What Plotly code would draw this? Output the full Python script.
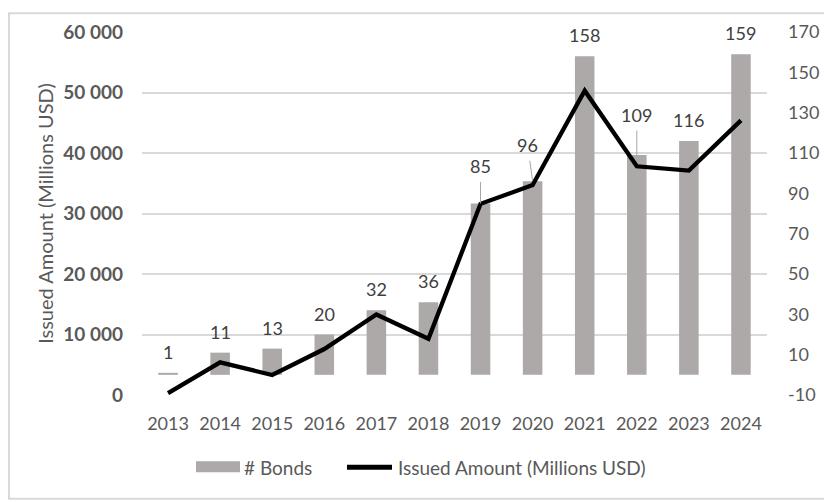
import plotly.graph_objects as go

years = ["2013", "2014", "2015", "2016", "2017", "2018", "2019", "2020", "2021", "2022", "2023", "2024"]
bonds = [1, 11, 13, 20, 32, 36, 85, 96, 158, 109, 116, 159]
issued = [300, 5400, 3300, 7600, 13300, 9300, 31600, 34700, 50300, 37800, 37100, 45400]
right_ticks = [-10, 10, 30, 50, 70, 90, 110, 130, 150, 170]

FONT = "Lato"
GREY_TXT = "#595959"
BAR_COL = "#ADA9A8"

# page has an 8px body margin; figure is placed at (8, 8)
OFF = 8
W, H = 832 - OFF, 503 - OFF
L, T = 142 - OFF, 28 - OFF
pw, ph = 625, 367
R, B = W - L - pw, H - T - ph


def px(x):
    # page pixel -> paper x
    return (x - OFF - L) / pw


def py(y):
    # page pixel -> paper y
    return (T + ph - (y - OFF)) / ph


fig = go.Figure()
fig.add_trace(go.Bar(x=years, y=bonds, name="# Bonds", marker=dict(color=BAR_COL, line=dict(width=0)),
                     width=0.375, yaxis="y", showlegend=False))
fig.add_trace(go.Scatter(x=years, y=issued, name="Issued Amount (Millions USD)", mode="lines",
                         line=dict(color="black", width=4.3), yaxis="y2", showlegend=False))

# label placement styles (pixel offsets), leader lines for a few
label_style = {"2019": (0, -37), "2020": (-5, -36), "2022": (0, -40)}
annotations = []
for i, (yr, v) in enumerate(zip(years, bonds)):
    if yr in label_style:
        dx, dy = label_style[yr]
        annotations.append(dict(x=i, y=v, xref="x", yref="y", text=str(v), showarrow=True,
                                arrowhead=0, arrowwidth=1, arrowcolor="#A6A6A6", ax=dx, ay=dy,
                                borderpad=4, font=dict(family=FONT, size=18, color="#404040")))
    else:
        annotations.append(dict(x=i, y=v, xref="x", yref="y", text=str(v), showarrow=False,
                                yshift=21, font=dict(family=FONT, size=18, color="#404040")))

# custom legend + outer border
shapes = [
    dict(type="rect", xref="paper", yref="paper", x0=px(196), x1=px(240), y0=py(473), y1=py(462),
         fillcolor=BAR_COL, line=dict(width=0)),
    dict(type="line", xref="paper", yref="paper", x0=px(347), x1=px(392), y0=py(468), y1=py(468),
         line=dict(color="black", width=5)),
    dict(type="rect", xref="paper", yref="paper", x0=(1 - L) / pw, x1=(W - 3 - L) / pw,
         y0=(T + ph - (H - 3)) / ph, y1=(T + ph - 1) / ph,
         line=dict(color="#D9D9D9", width=2), fillcolor="rgba(0,0,0,0)", layer="below"),
]
annotations.append(dict(xref="paper", yref="paper", x=px(242), y=py(468), text="# Bonds",
                        showarrow=False, xanchor="left", yanchor="middle",
                        font=dict(family=FONT, size=19, color=GREY_TXT)))
annotations.append(dict(xref="paper", yref="paper", x=px(396), y=py(468), text="Issued Amount (Millions USD)",
                        showarrow=False, xanchor="left", yanchor="middle",
                        font=dict(family=FONT, size=19, color=GREY_TXT)))

fig.update_layout(
    width=W, height=H,
    margin=dict(l=L, r=R, t=T, b=B, pad=0),
    paper_bgcolor="white", plot_bgcolor="white",
    separators=". ",
    font=dict(family=FONT, color=GREY_TXT),
    xaxis=dict(type="category", range=[-0.5, len(years) - 0.5], showgrid=False, showline=False, zeroline=False,
               ticks="outside", ticklen=12, tickcolor="rgba(0,0,0,0)",
               tickfont=dict(family=FONT, size=18, color=GREY_TXT)),
    yaxis=dict(side="right", range=[-10, 170], tickmode="array", tickvals=right_ticks,
               ticktext=[str(v) for v in right_ticks], showgrid=False, zeroline=False,
               showline=False, ticklabelstandoff=20,
               tickfont=dict(family=FONT, size=18, color=GREY_TXT)),
    yaxis2=dict(side="left", overlaying="y", range=[0, 60000], dtick=10000, tickformat=",",
                showgrid=True, gridcolor="#D9D9D9", gridwidth=1.5, zeroline=False, showline=False,
                ticklabelstandoff=18,
                tickfont=dict(family=FONT, size=19, color=GREY_TXT, weight="bold"),
                title=dict(text="Issued Amount (Millions USD)", standoff=4,
                           font=dict(family=FONT, size=20, color=GREY_TXT))),
    annotations=annotations,
    shapes=shapes,
)

fig.write_html("out.html")
